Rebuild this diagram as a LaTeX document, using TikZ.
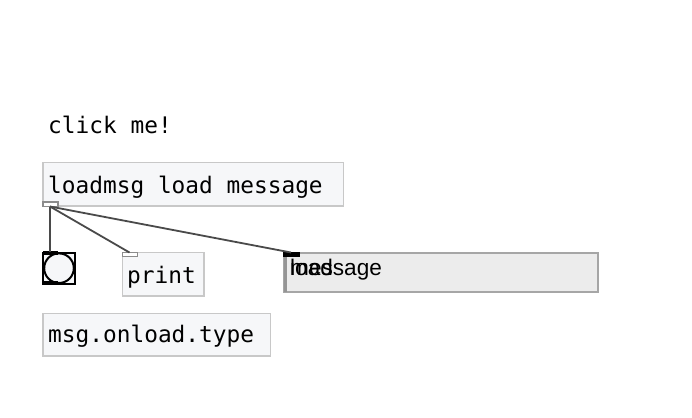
\documentclass[tikz,border=0pt]{standalone}
\usepackage{fontspec}
\newfontfamily\monof{DejaVu Sans Mono}
\newfontfamily\sansf{Liberation Sans}
\definecolor{objfill}{HTML}{F6F7F9}
\definecolor{objline}{HTML}{C8C8C8}
\definecolor{msgfill}{HTML}{ECECEC}
\definecolor{msgline}{HTML}{A6A6A6}
\definecolor{wire}{HTML}{4A4A4A}
\begin{document}
\begin{tikzpicture}[x=1pt,y=-1pt,
  objbox/.style={draw=objline,fill=objfill,line width=1.6pt},
  port/.style={draw=gray!90,fill=white,line width=1.2pt},
  monotext/.style={anchor=base west,inner sep=0pt,font=\monof\fontsize{22.8}{26}\selectfont},
  sanstext/.style={anchor=base west,inner sep=0pt,font=\sansf\fontsize{22.6}{26}\selectfont},
  wireline/.style={draw=wire,line width=1.8pt}]
\useasboundingbox[fill=white] (0,0) rectangle (692,417);
% comment
\node[monotext] (cmt) at (48,133) {click me!};
% loadmsg box
\draw[objbox] (43,162.5) rectangle (343.5,206);
\node[monotext] (lm) at (48,193) {loadmsg load message};
\draw[port] (43,202) rectangle (58,206.5);
\coordinate (lmout) at (50,206.5);
% bang
\draw[black,fill=objfill,line width=2pt] (43,252.5) rectangle (75,284);
\draw[black,line width=2pt] (59,268.2) circle (14.8);
\draw[black,line width=3.5pt] (43,252.8) -- (58,252.8);
\draw[black,line width=3.5pt] (43,283.2) -- (58,283.2);
\coordinate (bangin) at (50,252);
% print
\draw[objbox] (122.5,252.5) rectangle (204,296);
\node[monotext] (pr) at (127,283) {print};
\draw[port] (122.5,252.5) rectangle (137.5,256.5);
\coordinate (prin) at (129.5,252.5);
% message box
\draw[draw=msgline,fill=msgfill,line width=2pt] (284,253) rectangle (598,291.5);
\draw[draw=msgline!90!black,line width=3pt] (285,253) -- (285,291.5);
\fill[black] (283,252) rectangle (300,256.5);
\coordinate (msgin) at (291,252.5);
\node[sanstext] (m1) at (290,275.5) {load};
\node[sanstext] (m2) at (290,275.5) {message};
% msg.onload.type
\draw[objbox] (43,313.5) rectangle (270.5,356);
\node[monotext] (mo) at (48,342) {msg.onload.type};
% wires
\draw[wireline] (lmout) -- (bangin);
\draw[wireline] (lmout) -- (prin);
\draw[wireline] (lmout) -- (msgin);
\end{tikzpicture}
\end{document}
